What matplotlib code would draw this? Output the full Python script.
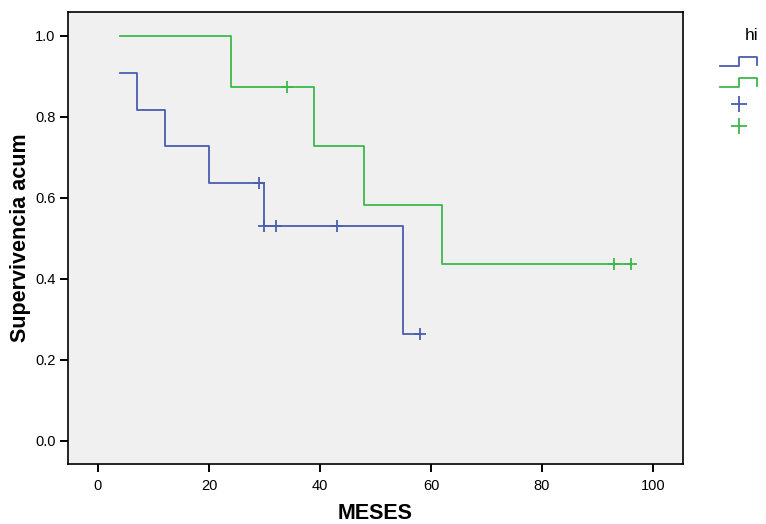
import matplotlib
matplotlib.use("Agg")
import matplotlib.pyplot as plt

plt.rcParams["font.family"] = ["Liberation Sans", "DejaVu Sans"]

blue = '#4a5db0'
green = '#3cb94a'

# Kaplan-Meier steps (MESES, supervivencia acumulada)
blue_t = [4, 7, 12, 20, 30, 55, 58]
blue_s = [0.909, 0.818, 0.727, 0.636, 0.530, 0.265, 0.265]
blue_cens_t = [29, 30, 32, 43, 58]
blue_cens_s = [0.636, 0.530, 0.530, 0.530, 0.265]

green_t = [4, 24, 39, 48, 62, 96]
green_s = [1.0, 0.875, 0.729, 0.583, 0.4375, 0.4375]
green_cens_t = [34, 93, 96]
green_cens_s = [0.875, 0.4375, 0.4375]

xticks = [0, 20, 40, 60, 80, 100]
yticks = [0.0, 0.2, 0.4, 0.6, 0.8, 1.0]

fig = plt.figure(figsize=(7.66, 5.24), dpi=100)
ax = fig.add_axes([68/766, 60/524, 615/766, 452/524])
ax.set_facecolor('#f0f0f0')

ax.step(blue_t, blue_s, where='post', color=blue, linewidth=1.3)
ax.step(green_t, green_s, where='post', color=green, linewidth=1.3)
ax.plot(blue_cens_t, blue_cens_s, linestyle='none', marker='+', color=blue,
        markersize=9, markeredgewidth=1.3)
ax.plot(green_cens_t, green_cens_s, linestyle='none', marker='+', color=green,
        markersize=9, markeredgewidth=1.3)

ax.set_xlim(-5.4, 105.4)
ax.set_ylim(-0.057, 1.059)
ax.set_xticks(xticks)
ax.set_yticks(yticks)
ax.set_yticklabels(["%.1f" % v for v in yticks])
ax.tick_params(axis='both', direction='out', length=6, width=1.4, labelsize=10.5, pad=3)
ax.tick_params(axis='x', pad=5)
for sp in ax.spines.values():
    sp.set_linewidth(1.2)

ax.set_xlabel('MESES', fontsize=15.5, fontweight='bold', labelpad=7)
ax.set_ylabel('Supervivencia acum', fontsize=15.5, fontweight='bold', labelpad=3)

# legend (title + glyphs without labels)
fig.text(745/766, 1 - 35/524, 'hi', fontsize=12.5, ha='left', va='center')
lg = fig.add_axes([715/766, 1 - 135/524, 45/766, 90/524])
lg.set_xlim(715, 760)
lg.set_ylim(135, 45)
lg.axis('off')
lg.plot([720, 739, 739, 757, 757], [66, 66, 57, 57, 65], color=blue, linewidth=1.3)
lg.plot([720, 739, 739, 757, 757], [87, 87, 78, 78, 86], color=green, linewidth=1.3)
lg.plot([739], [104], marker='+', color=blue, markersize=11, markeredgewidth=1.3)
lg.plot([739], [126], marker='+', color=green, markersize=11, markeredgewidth=1.3)

fig.savefig('out.png', dpi=100)
